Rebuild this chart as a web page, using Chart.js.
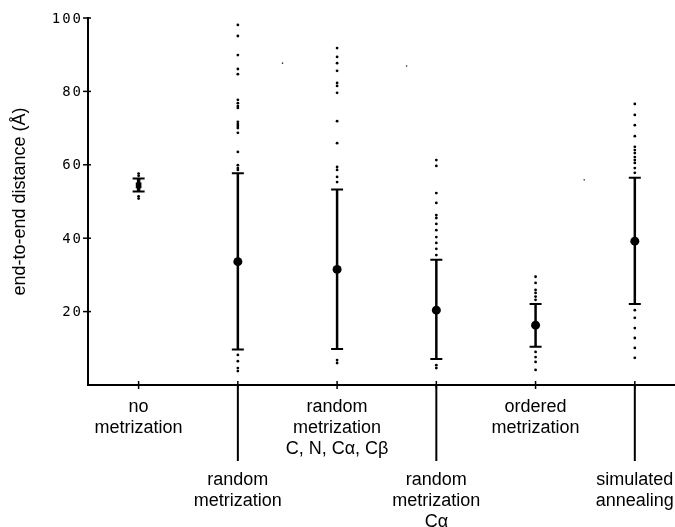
<!DOCTYPE html>
<html>
<head>
<meta charset="utf-8">
<script src="https://cdn.jsdelivr.net/npm/chart.js@4/dist/chart.umd.min.js"></script>
<style>
  html, body { margin: 0; background: #fff; overflow: hidden; }
  #wrap { width: 680px; height: 527px; position: relative; }
</style>
</head>
<body>
<div id="wrap"><canvas id="grafica"></canvas></div>
<script>
// categorías (una línea por renglón de la etiqueta)
var categories = [
    ['no', 'metrization'],
    ['random', 'metrization'],
    ['random', 'metrization', 'C, N, Cα, Cβ'],
    ['random', 'metrization', 'Cα'],
    ['ordered', 'metrization'],
    ['simulated', 'annealing']
];
var dropped = [false, true, false, true, false, true];

var means   = [54.4, 33.6, 31.5, 20.4, 16.3, 39.2];
var capHigh = [56.3, 57.7, 53.3, 34.1, 22.1, 56.5];
var capLow  = [52.7,  9.7,  9.8,  7.1, 10.4, 22.1];

var outliers = [
    [57.6, 57.0, 51.4, 50.8],
    [98.1, 95.1, 89.9, 86.1, 84.7, 77.7, 76.8, 76.0, 75.5, 71.7, 71.1, 70.6, 70.0, 68.7, 63.5, 59.9, 59.1, 58.6, 8.2, 6.5, 4.6, 3.8],
    [91.8, 89.4, 87.7, 85.6, 82.3, 81.5, 79.6, 71.9, 65.9, 59.4, 58.6, 56.7, 55.3, 6.8, 6.0],
    [61.3, 59.7, 52.3, 49.6, 46.3, 45.5, 43.9, 42.2, 40.3, 38.7, 37.1, 35.4, 5.4, 4.6],
    [29.5, 27.8, 25.9, 25.1, 24.1, 23.2, 9.0, 7.6, 6.3, 4.1],
    [76.6, 73.6, 70.8, 67.8, 64.9, 64.0, 63.2, 62.1, 61.3, 60.5, 59.1, 57.8, 20.4, 18.3, 15.5, 12.8, 10.1, 7.4]
];

// puntitos sueltos del escaneo
var specksX = [1.45, 2.70, 4.49];
var specksY = [87.7, 86.9, 55.9];

var yTicks = [20, 40, 60, 80, 100];

var meanPoints = means.map(function(v, i) { return {x: i, y: v}; });
var outlierPoints = [];
outliers.forEach(function(list, i) {
    list.forEach(function(v) { outlierPoints.push({x: i, y: v}); });
});
var speckPoints = specksX.map(function(x, i) { return {x: x, y: specksY[i]}; });

// Plugin: barras de error, marcas de ejes y etiquetas
var decorPlugin = {
    id: 'decor',
    beforeDatasetsDraw: function(chart) {
        var ctx = chart.ctx;
        var xs = chart.scales.x, ys = chart.scales.y;
        ctx.save();
        ctx.strokeStyle = '#000';
        ctx.lineCap = 'butt';
        means.forEach(function(m, i) {
            var px = xs.getPixelForValue(i);
            var top = ys.getPixelForValue(capHigh[i]);
            var bot = ys.getPixelForValue(capLow[i]);
            ctx.lineWidth = i === 0 ? 3.5 : 2.5;
            ctx.beginPath();
            ctx.moveTo(px, top);
            ctx.lineTo(px, bot);
            ctx.stroke();
            ctx.lineWidth = 2;
            ctx.beginPath();
            ctx.moveTo(px - 6, top); ctx.lineTo(px + 6, top);
            ctx.moveTo(px - 6, bot); ctx.lineTo(px + 6, bot);
            ctx.stroke();
        });
        ctx.restore();
    },
    afterDraw: function(chart) {
        var ctx = chart.ctx;
        var xs = chart.scales.x, ys = chart.scales.y;
        var area = chart.chartArea;
        ctx.save();
        ctx.strokeStyle = '#000';
        ctx.fillStyle = '#000';
        ctx.lineWidth = 1.5;

        // marcas del eje y
        yTicks.forEach(function(t) {
            var py = ys.getPixelForValue(t);
            ctx.beginPath();
            ctx.moveTo(area.left - 5, py);
            ctx.lineTo(area.left + 3, py);
            ctx.stroke();
        });
        ctx.font = '14px "DejaVu Sans Mono"';
        ctx.letterSpacing = '2px';
        ctx.textAlign = 'right';
        ctx.textBaseline = 'middle';
        yTicks.forEach(function(t) {
            ctx.fillText(String(t), area.left - 5, ys.getPixelForValue(t) + 1);
        });
        ctx.letterSpacing = '0px';

        // marcas del eje x, líneas y etiquetas
        ctx.font = '18px "Liberation Sans"';
        ctx.textAlign = 'center';
        categories.forEach(function(lines, i) {
            var px = xs.getPixelForValue(i);
            ctx.lineWidth = 1.5;
            ctx.beginPath();
            ctx.moveTo(px, area.bottom - 4);
            ctx.lineTo(px, area.bottom + 4);
            ctx.stroke();
            var y0 = area.bottom + 22;
            if (dropped[i]) {
                ctx.lineWidth = 2;
                ctx.beginPath();
                ctx.moveTo(px, area.bottom);
                ctx.lineTo(px, area.bottom + 76);
                ctx.stroke();
                y0 = area.bottom + 95;
            }
            lines.forEach(function(txt, k) {
                ctx.fillText(txt, px, y0 + k * 21);
            });
        });
        ctx.restore();
    }
};

var ctx = document.getElementById('grafica').getContext('2d');
window.distChart = new Chart(ctx, {
    type: 'scatter',
    data: {
        datasets: [{
            label: 'outliers',
            data: outlierPoints,
            backgroundColor: '#000',
            borderWidth: 0,
            pointRadius: 1.4
        }, {
            label: 'specks',
            data: speckPoints,
            backgroundColor: '#333',
            borderWidth: 0,
            pointRadius: 0.8
        }, {
            label: 'mean',
            data: meanPoints,
            backgroundColor: '#000',
            borderWidth: 0,
            pointStyle: ['rect', 'circle', 'circle', 'circle', 'circle', 'circle'],
            pointRadius: [4, 4.5, 4.5, 4.5, 4.5, 4.5]
        }]
    },
    options: {
        responsive: true,
        maintainAspectRatio: false,
        animation: false,
        events: [],
        layout: { padding: { top: 18, left: 0, right: 0, bottom: 0 } },
        plugins: {
            legend: { display: false },
            tooltip: { enabled: false }
        },
        scales: {
            x: {
                type: 'linear',
                min: -0.51,
                max: 5.41,
                grid: { display: false },
                ticks: { display: false },
                border: { display: true, color: '#000', width: 2 },
                afterFit: function(scale) { scale.height = 142; }
            },
            y: {
                min: 0,
                max: 100,
                grid: { display: false },
                ticks: { display: false, stepSize: 20 },
                border: { display: true, color: '#000', width: 2 },
                title: {
                    display: true,
                    text: 'end-to-end distance (Å)',
                    color: '#000',
                    font: { family: 'Liberation Sans', size: 18 },
                    padding: { top: 9, bottom: 0 }
                },
                afterFit: function(scale) { scale.width = 88; }
            }
        }
    },
    plugins: [decorPlugin]
});
</script>
</body>
</html>
